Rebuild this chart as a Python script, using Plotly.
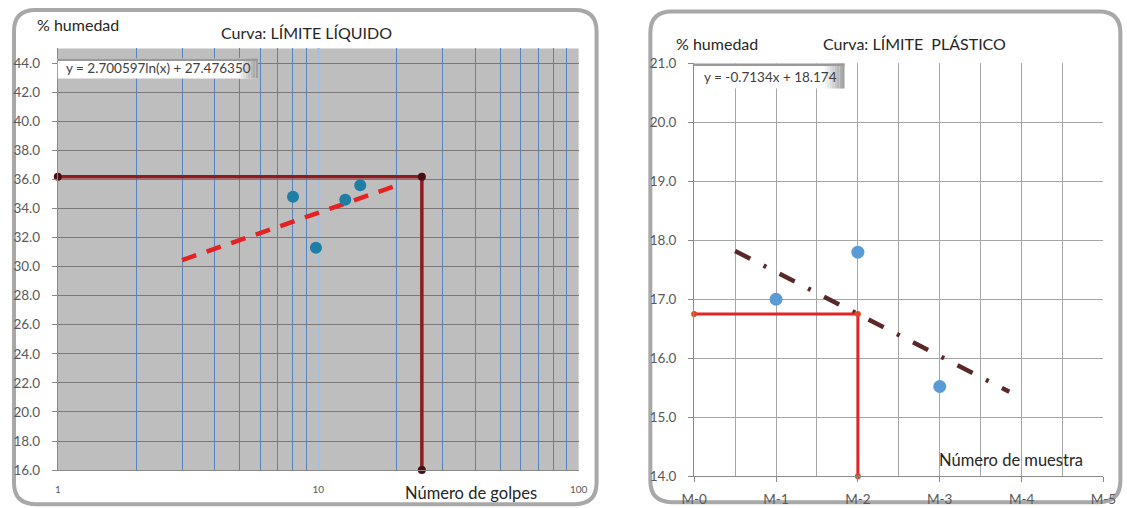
import plotly.graph_objects as go

W, H = 1127, 508

# ---------------- data: LÍMITE LÍQUIDO ----------------
golpes = [8, 9.8, 12.7, 14.5]
humedad_ll = [34.8, 31.3, 34.6, 35.6]
trend_ll_x = [3, 20]
trend_ll_y = [30.44, 35.57]
guia_ll_x = [1, 25, 25]
guia_ll_y = [36.17, 36.17, 16.0]
ll_yticks = [16, 18, 20, 22, 24, 26, 28, 30, 32, 34, 36, 38, 40, 42, 44]
ll_xticks = [1, 10, 100]
ll_xminor = [2, 3, 4, 5, 6, 7, 8, 9, 20, 30, 40, 50, 60, 70, 80, 90]

# ---------------- data: LÍMITE PLÁSTICO ----------------
muestra = [1, 2, 3]
humedad_lp = [17.0, 17.8, 15.52]
trend_lp_x = [0.5, 3.85]
trend_lp_y = [17.82, 15.43]
guia_lp_x = [0, 2, 2]
guia_lp_y = [16.75, 16.75, 14.0]
lp_xticks = [0, 1, 2, 3, 4, 5]
lp_xlabels = ["M-0", "M-1", "M-2", "M-3", "M-4", "M-5"]
lp_xminor = [0.5, 1.5, 2.5, 3.5, 4.5]
lp_yticks = [14, 15, 16, 17, 18, 19, 20, 21]

# mapping from target-picture pixels to page pixels
SX, OX = 0.981, 10.0
SY, OY = 0.967, 8.6


def X(x):
    return (x - OX) / SX


def Y(y):
    return (y - OY) / SY


def px(x):
    return X(x) / W


def py(y):
    return 1 - Y(y) / H


FONT = "Lato, 'Open Sans', sans-serif"
TXT = "#404040"
DARK = "#262626"

fig = go.Figure()

# ---- left traces ----
fig.add_trace(go.Scatter(x=trend_ll_x, y=trend_ll_y, mode="lines",
                         line=dict(color="#E52222", width=4.5, dash="15px,11px"),
                         xaxis="x", yaxis="y", showlegend=False, hoverinfo="skip"))
fig.add_trace(go.Scatter(x=guia_ll_x, y=guia_ll_y, mode="lines+markers",
                         line=dict(color="#8E1B1F", width=3.5),
                         marker=dict(color="#4A0E12", size=8),
                         xaxis="x", yaxis="y", showlegend=False, cliponaxis=False))
fig.add_trace(go.Scatter(x=golpes, y=humedad_ll, mode="markers",
                         marker=dict(color="#1F7EA3", size=12),
                         xaxis="x", yaxis="y", showlegend=False))

# ---- right traces ----
fig.add_trace(go.Scatter(x=trend_lp_x, y=trend_lp_y, mode="lines",
                         line=dict(color="#5A2828", width=4.5, dash="17px,15px,3px,15px"),
                         xaxis="x2", yaxis="y2", showlegend=False, hoverinfo="skip"))
fig.add_trace(go.Scatter(x=guia_lp_x, y=guia_lp_y, mode="lines+markers",
                         line=dict(color="#E02424", width=3),
                         marker=dict(color="#D94A2A", size=6),
                         xaxis="x2", yaxis="y2", showlegend=False, cliponaxis=False))
fig.add_trace(go.Scatter(x=muestra, y=humedad_lp, mode="markers",
                         marker=dict(color="#5B9BD5", size=13),
                         xaxis="x2", yaxis="y2", showlegend=False))

shapes = []


def rounded(x0, y0, x1, y1, r):
    X0, X1 = px(x0), px(x1)
    Y0, Y1 = py(y0), py(y1)
    rx, ry = r / W, r / H
    return (f"M {X0+rx} {Y0} L {X1-rx} {Y0} Q {X1} {Y0} {X1} {Y0-ry} "
            f"L {X1} {Y1+ry} Q {X1} {Y1} {X1-rx} {Y1} "
            f"L {X0+rx} {Y1} Q {X0} {Y1} {X0} {Y1+ry} "
            f"L {X0} {Y0-ry} Q {X0} {Y0} {X0+rx} {Y0} Z")


# containers
shapes.append(dict(type="path", path=rounded(11, 10.5, 596, 504, 22), xref="paper", yref="paper",
                   line=dict(color="#A8A8A8", width=4), fillcolor="white", layer="below"))
shapes.append(dict(type="path", path=rounded(650, 12, 1122, 502, 22), xref="paper", yref="paper",
                   line=dict(color="#A8A8A8", width=4), fillcolor="white", layer="below"))
# gray plot background for left chart
shapes.append(dict(type="rect", xref="x domain", yref="y domain", x0=0, x1=1, y0=0, y1=1,
                   fillcolor="#BEBEBE", line=dict(width=0), layer="below"))


# equation boxes (white with gray shading on the right and a thin shadow on top)
def eq_box(x0, y0, x1, y1):
    out = [dict(type="rect", xref="paper", yref="paper", x0=px(x0), x1=px(x1), y0=py(y1), y1=py(y0),
                fillcolor="white", line=dict(width=0), layer="above")]
    shades = ["#F4F4F4", "#E8E8E8", "#DCDCDC", "#D0D0D0", "#C4C4C4", "#B8B8B8", "#ACACAC", "#A0A0A0"]
    step = 2.5
    for i, c in enumerate(shades):
        xs = x1 - (len(shades) - i) * step
        out.append(dict(type="rect", xref="paper", yref="paper", x0=px(xs), x1=px(xs + step),
                        y0=py(y1), y1=py(y0), fillcolor=c, line=dict(width=0), layer="above"))
    out.append(dict(type="rect", xref="paper", yref="paper", x0=px(x0), x1=px(x1), y0=py(y0 + 2.5),
                    y1=py(y0), fillcolor="#9A9A9A", line=dict(width=0), layer="above"))
    return out


shapes += eq_box(55, 59, 256, 79)
shapes += eq_box(694, 64, 845, 89)

annotations = [
    dict(text="% humedad", x=px(32), y=py(25), xref="paper", yref="paper", showarrow=False,
         xanchor="left", yanchor="middle", font=dict(family=FONT, size=16, color=DARK)),
    dict(text="Curva: LÍMITE LÍQUIDO", x=px(305), y=py(33), xref="paper", yref="paper", showarrow=False,
         xanchor="center", yanchor="middle", font=dict(family=FONT, size=16, color=DARK)),
    dict(text="y = 2.700597ln(x) + 27.476350", x=px(61), y=py(69), xref="paper", yref="paper",
         showarrow=False, xanchor="left", yanchor="middle", font=dict(family=FONT, size=13.5, color=TXT)),
    dict(text="Número de golpes", x=px(470), y=py(493), xref="paper", yref="paper", showarrow=False,
         xanchor="center", yanchor="middle", font=dict(family=FONT, size=16.5, color=DARK)),
    dict(text="% humedad", x=px(674), y=py(44), xref="paper", yref="paper", showarrow=False,
         xanchor="left", yanchor="middle", font=dict(family=FONT, size=16, color=DARK)),
    dict(text="Curva: LÍMITE  PLÁSTICO", x=px(915), y=py(44), xref="paper", yref="paper", showarrow=False,
         xanchor="center", yanchor="middle", font=dict(family=FONT, size=16, color=DARK)),
    dict(text="y = -0.7134x + 18.174", x=px(702), y=py(77.5), xref="paper", yref="paper",
         showarrow=False, xanchor="left", yanchor="middle", font=dict(family=FONT, size=13.5, color=TXT)),
    dict(text="Número de muestra", x=px(1012), y=py(460), xref="paper", yref="paper", showarrow=False,
         xanchor="center", yanchor="middle", font=dict(family=FONT, size=16.5, color=DARK)),
]

fig.update_layout(
    width=W, height=H,
    margin=dict(l=0, r=0, t=0, b=0),
    paper_bgcolor="white",
    plot_bgcolor="rgba(0,0,0,0)",
    font=dict(family=FONT, color=TXT),
    shapes=shapes,
    annotations=annotations,
    xaxis=dict(domain=[px(55), px(578)], type="log", range=[0, 2],
               tickvals=ll_xticks, ticktext=[str(v) for v in ll_xticks],
               tickfont=dict(size=10, color="#595959"), ticks="", ticklabelstandoff=10,
               showgrid=True, gridcolor="#9DC3E6", gridwidth=2.5,
               minor=dict(tickvals=ll_xminor, showgrid=True, gridcolor="#5585C0", gridwidth=1, ticks=""),
               showline=True, linecolor="#8A8A8A", linewidth=1, zeroline=False, anchor="y",
               fixedrange=True),
    yaxis=dict(domain=[py(470), py(49)], range=[16, 45],
               tickvals=ll_yticks, tickformat=".1f",
               tickfont=dict(size=13.5, color="#595959"), ticks="outside", ticklen=5,
               tickcolor="#8A8A8A", ticklabelstandoff=9,
               showgrid=True, gridcolor="#7A7A7A", gridwidth=1,
               showline=True, linecolor="#8A8A8A", linewidth=1, zeroline=False, anchor="x",
               fixedrange=True),
    xaxis2=dict(domain=[px(694), px(1105)], range=[0, 5],
                tickvals=lp_xticks, ticktext=lp_xlabels,
                tickfont=dict(size=13.5, color="#595959"), ticks="outside", ticklen=5,
                tickcolor="#8A8A8A", ticklabelstandoff=6,
                showgrid=True, gridcolor="#A6A6A6", gridwidth=1,
                minor=dict(tickvals=lp_xminor, showgrid=True, gridcolor="#A6A6A6", gridwidth=1, ticks=""),
                showline=True, linecolor="#8A8A8A", linewidth=1, zeroline=False, anchor="y2",
                fixedrange=True),
    yaxis2=dict(domain=[py(476), py(64)], range=[14, 21],
                tickvals=lp_yticks, tickformat=".1f",
                tickfont=dict(size=13.5, color="#595959"), ticks="outside", ticklen=5,
                tickcolor="#8A8A8A", ticklabelstandoff=9,
                showgrid=True, gridcolor="#A6A6A6", gridwidth=1,
                showline=True, linecolor="#8A8A8A", linewidth=1, zeroline=False, anchor="x2",
                fixedrange=True),
)

fig.write_html(
    "out.html",
    config={"displayModeBar": False},
    post_script="document.body.style.margin='0';document.body.style.overflow='hidden';",
)
